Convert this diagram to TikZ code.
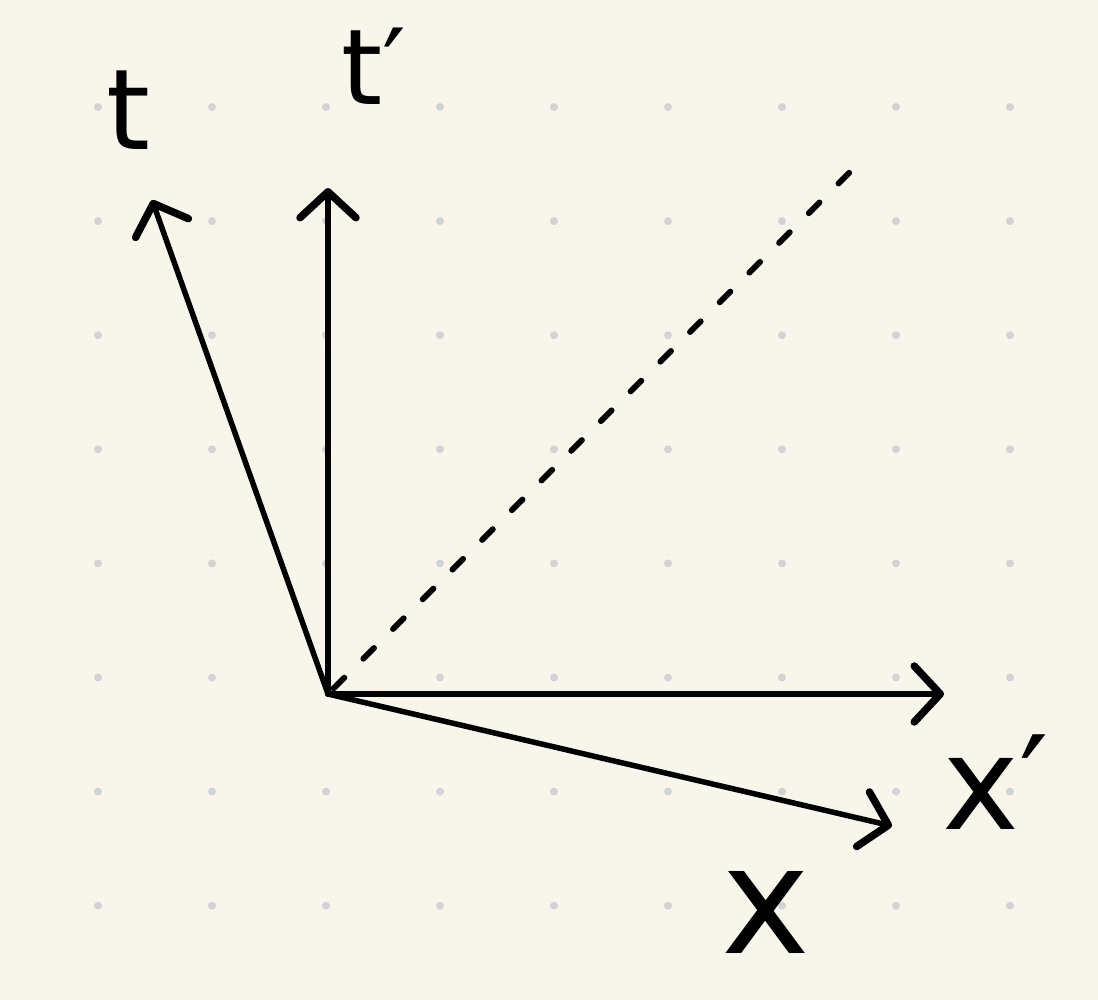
\documentclass[tikz,border=0pt]{standalone}
\usepackage{fontspec}
\setmainfont{DejaVu Sans}
\usetikzlibrary{arrows.meta}
\definecolor{paper}{HTML}{F8F6EA}
\definecolor{gdot}{HTML}{D3D3D6}
\tikzset{
  axis/.style={line width=5.5pt, line cap=round, -{Straight Barb[length=26pt, width=56pt, line width=7.5pt, round]}},
  lbl/.style={inner sep=0pt, text=black},
}
\begin{document}
\begin{tikzpicture}[x=1pt, y=-1pt]
\fill[paper] (0,0) rectangle (1098,1000);
\useasboundingbox (0,0) rectangle (1098,1000);
\foreach \i in {0,...,8} {
  \foreach \j in {0,...,7} {
    \fill[gdot] ({98+114*\i},{107+114.1*\j}) circle (4pt);
  }
}
\coordinate (O) at (328,694);
\coordinate (T) at (152,200);
\coordinate (Tp) at (328,188);
\coordinate (Xp) at (944,694);
\coordinate (X) at (892,826);
\coordinate (D) at (852,170);
\draw[axis] (O) -- (T);
\draw[axis] (O) -- (Tp);
\draw[axis] (O) -- (Xp);
\draw[axis] (O) -- (X);
\draw[line width=6pt, line cap=round, dash pattern=on 15pt off 27pt, dash phase=-8pt] (O) -- (D);
\node[lbl, font=\fontsize{112}{112}\selectfont] (lt) at (128,110) {t};
\node[lbl, font=\fontsize{105}{105}\selectfont] (ltp) at (374,66) {t′};
\node[lbl, font=\fontsize{130}{130}\selectfont] (lxp) at (996,782) {x′};
\node[lbl, font=\fontsize{150}{150}\selectfont] (lx) at (766,912) {x};
\end{tikzpicture}
\end{document}
